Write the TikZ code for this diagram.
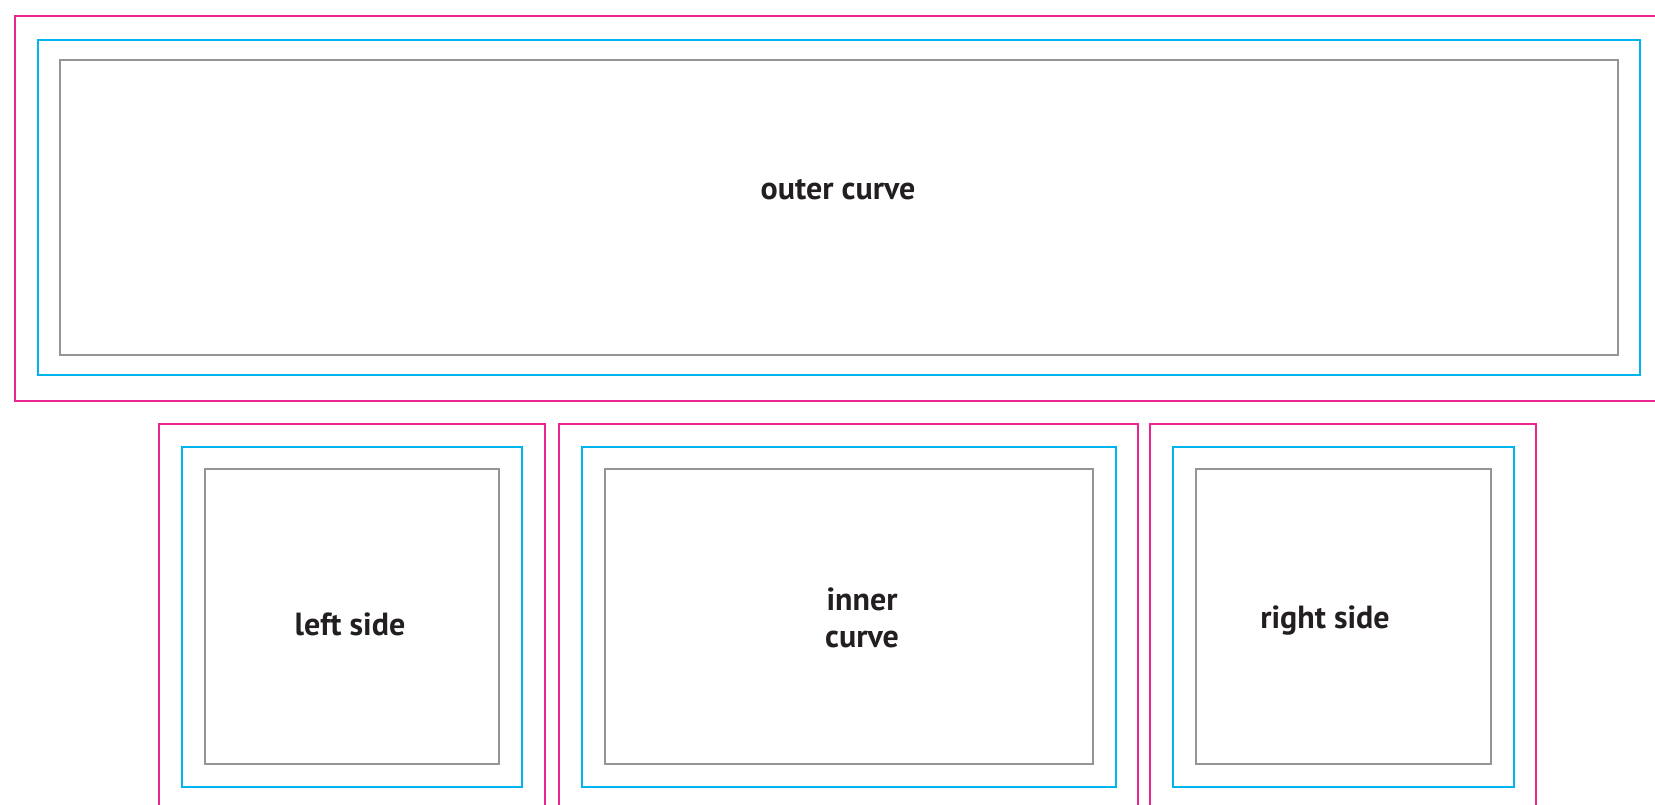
\documentclass[tikz,border=0pt]{standalone}
\usepackage{fontspec}
\setmainfont{PT Sans}
\definecolor{pinkc}{HTML}{EC268F}
\definecolor{bluec}{HTML}{00B4EE}
\definecolor{greyc}{HTML}{939598}
\definecolor{textc}{HTML}{231F20}
\tikzset{
  bleed/.style={draw=pinkc, line width=1.7pt},
  trim/.style={draw=bluec, line width=2pt},
  safe/.style={draw=greyc, line width=1.7pt},
  lbl/.style={font=\fontsize{24}{28}\selectfont\bfseries, text=textc, align=center}
}
\begin{document}
\begin{tikzpicture}[x=0.75pt,y=-0.75pt]
\path[use as bounding box] (0,0) rectangle (1655,805);
\clip (0,0) rectangle (1655,805);
% top group
\draw[bleed] (15,16) rectangle (1700,401);
\draw[trim] (38,40) rectangle (1640,375);
\draw[safe] (60,60) rectangle (1618,355);
\node[lbl] (outer) at (838,190) {outer curve};
% bottom left
\draw[bleed] (159,424) rectangle (545,850);
\draw[trim] (182,447) rectangle (522,787);
\draw[safe] (205,469) rectangle (499,764);
\node[lbl] (left) at (350,624) {left side};
% bottom middle
\draw[bleed] (559,424) rectangle (1138,850);
\draw[trim] (582,447) rectangle (1116,787);
\draw[safe] (605,469) rectangle (1093,764);
\node[lbl] (inner) at (862,618) {inner\\curve};
% bottom right
\draw[bleed] (1150,424) rectangle (1536,850);
\draw[trim] (1173,447) rectangle (1514,787);
\draw[safe] (1196,469) rectangle (1491,764);
\node[lbl] (right) at (1325,621) {right side};
\end{tikzpicture}
\end{document}
